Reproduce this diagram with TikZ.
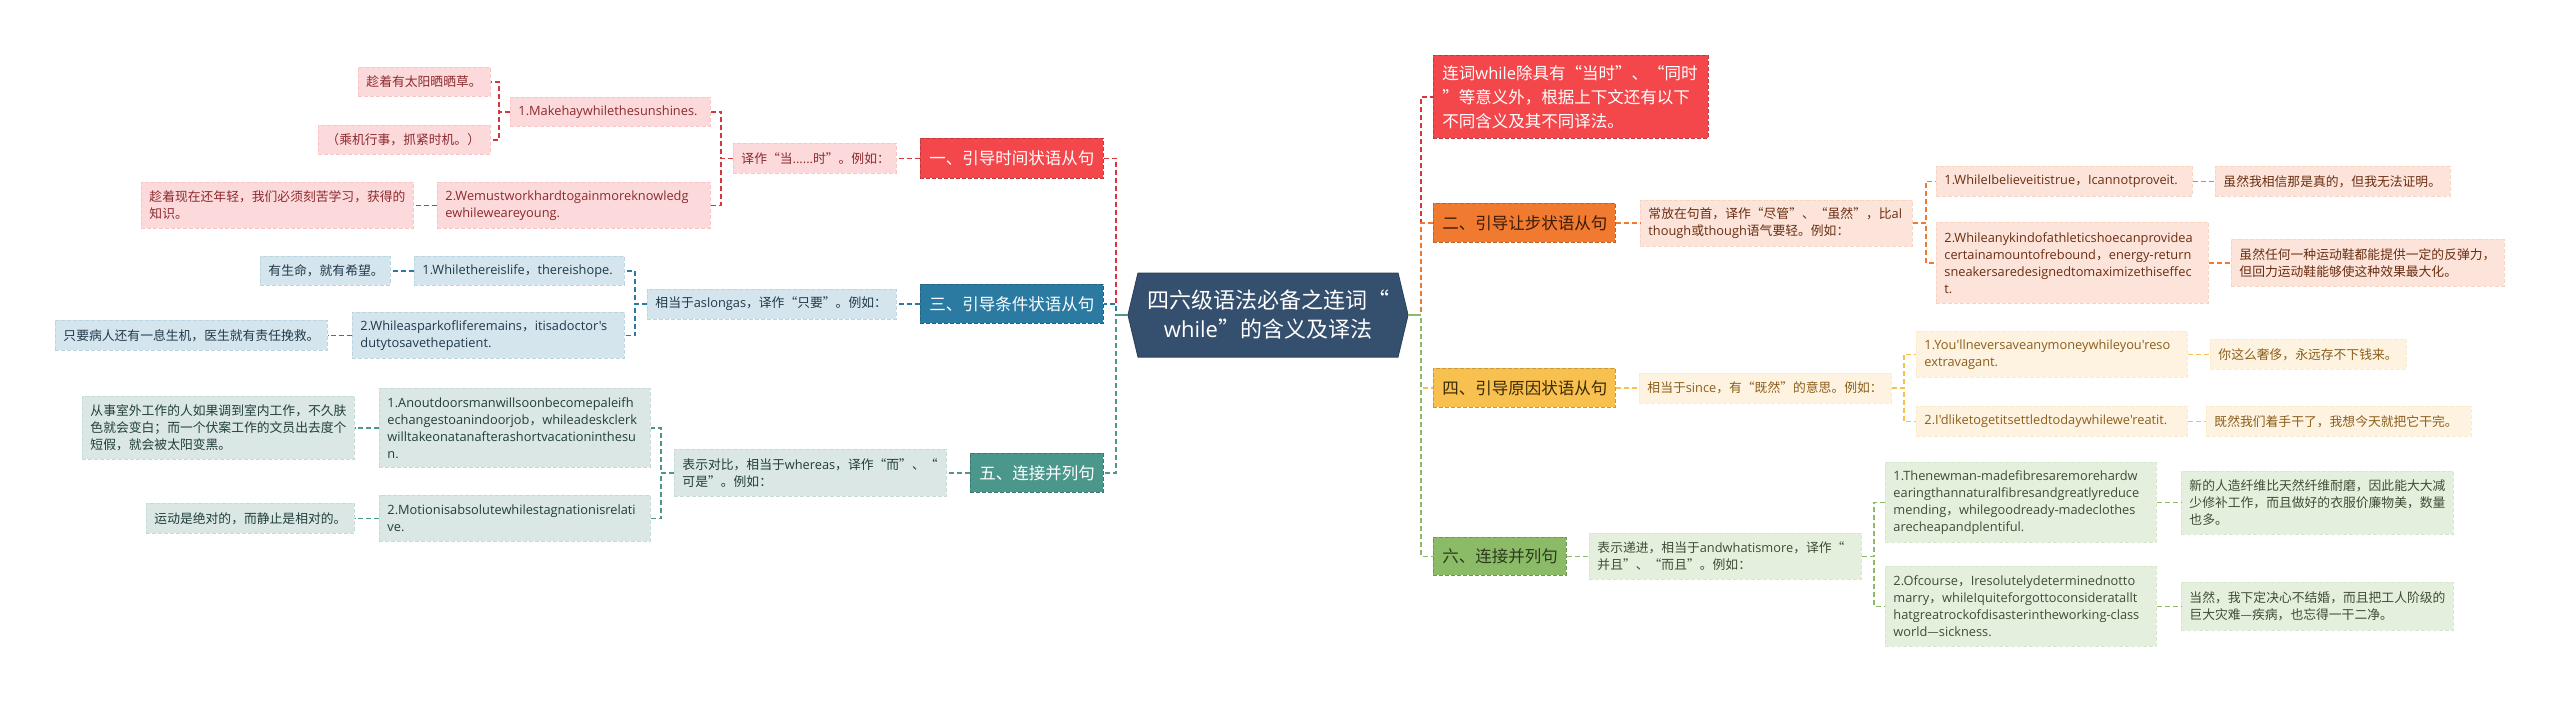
\documentclass[tikz,border=0pt]{standalone}
\usepackage{fontspec}
\setmainfont{Open Sans}
\newfontfamily\cjkfont{Noto Sans CJK SC}
\newfontfamily\latfont{Open Sans}
\XeTeXinterchartokenstate=1
\newXeTeXintercharclass\CJKcls
\newcount\ccnt
\ccnt="3000 \loop\XeTeXcharclass\ccnt=\CJKcls\advance\ccnt by 1\relax\ifnum\ccnt<"3040 \repeat
\ccnt="4E00 \loop\XeTeXcharclass\ccnt=\CJKcls\advance\ccnt by 1\relax\ifnum\ccnt<"A000 \repeat
\ccnt="FF00 \loop\XeTeXcharclass\ccnt=\CJKcls\advance\ccnt by 1\relax\ifnum\ccnt<"FFF0 \repeat
\XeTeXcharclass"201C=\CJKcls
\XeTeXcharclass"201D=\CJKcls
\XeTeXcharclass"2014=\CJKcls
\XeTeXinterchartoks 0 \CJKcls = {\cjkfont}
\XeTeXinterchartoks 4095 \CJKcls = {\cjkfont}
\XeTeXinterchartoks 255 \CJKcls = {\cjkfont}
\XeTeXinterchartoks \CJKcls 0 = {\latfont}
\XeTeXinterchartoks 4095 0 = {\latfont}
\newcommand\setfs[2]{\fontsize{#1}{#2}\selectfont\hyphenpenalty=10000 \exhyphenpenalty=10000 }

\definecolor{cRed}{HTML}{F4474C}
\definecolor{cRedL}{HTML}{FCDADC}
\definecolor{cRedT}{HTML}{8C2A2D}
\definecolor{cRedLine}{HTML}{D6363E}
\definecolor{cBlue}{HTML}{2A7AA2}
\definecolor{cBlueL}{HTML}{D5E5EE}
\definecolor{cBlueT}{HTML}{20394A}
\definecolor{cTeal}{HTML}{4B978C}
\definecolor{cTealL}{HTML}{DAE7E5}
\definecolor{cTealT}{HTML}{213F3B}
\definecolor{cOr}{HTML}{F07A2F}
\definecolor{cOrL}{HTML}{FCE4DA}
\definecolor{cOrT}{HTML}{6A2E12}
\definecolor{cOrH}{HTML}{3E1A08}
\definecolor{cYel}{HTML}{F8C04E}
\definecolor{cYelL}{HTML}{FDF3E0}
\definecolor{cYelT}{HTML}{8C5E1C}
\definecolor{cYelH}{HTML}{3A2A06}
\definecolor{cGr}{HTML}{8BBB66}
\definecolor{cGrL}{HTML}{E5EFDD}
\definecolor{cGrT}{HTML}{3E4D33}
\definecolor{cGrH}{HTML}{2C3A20}
\definecolor{cNavy}{HTML}{35506E}

\tikzset{
  bx/.style={draw, dash pattern=on 4pt off 2pt, line width=0.9pt, anchor=north west, align=left, inner xsep=8pt, inner ysep=0pt},
  sm/.style={bx, font=\setfs{12.8}{17}},
  hd/.style={bx, font=\setfs{16.5}{22}, inner xsep=9pt},
  tw/.style={text width=#1},
  mh/.style={minimum height=#1},
  redc/.style={sm, fill=cRedL, draw=cRedL!85!cRed, text=cRedT},
  bluec/.style={sm, fill=cBlueL, draw=cBlueL!85!cBlue, text=cBlueT},
  tealc/.style={sm, fill=cTealL, draw=cTealL!85!cTeal, text=cTealT},
  orc/.style={sm, fill=cOrL, draw=cOrL!85!cOr, text=cOrT},
  yelc/.style={sm, fill=cYelL, draw=cYelL!85!cYel, text=cYelT},
  grc/.style={sm, fill=cGrL, draw=cGrL!85!cGr, text=cGrT},
  ln/.style={draw=#1, dash pattern=on 5pt off 3pt, line width=1.4pt},
}

\begin{document}
\begin{tikzpicture}[x=1pt,y=-1pt]
\fill[white] (0,0) rectangle (2560,705);
\useasboundingbox (0,0) rectangle (2560,705);

% central node
\coordinate (cl) at (1128,315);
\coordinate (cr) at (1408,315);
\draw[fill=cNavy, draw=cNavy!85!black, line width=1pt] (cl) -- (1138,273) -- (1398,273) -- (cr) -- (1398,357) -- (1138,357) -- cycle;
\node[text=white, align=center, font=\setfs{22}{29}] (ctr) at (1268,315) {四六级语法必备之连词“\\while”的含义及译法};

% ---------- left: red branch
\node[hd, fill=cRed, draw=cRed!80!black, text=white, tw=165, mh=40] (B1) at (920,138) {一、引导时间状语从句};
\node[redc, tw=147, mh=30] (A6) at (733,143) {译作“当......时”。例如：};
\node[redc, tw=184, mh=29] (A3) at (510,97) {1.Makehaywhilethesunshines.};
\node[redc, tw=116, mh=29] (A1) at (358,67) {趁着有太阳晒晒草。};
\node[redc, tw=156, mh=29] (A2) at (318,125) {（乘机行事，抓紧时机。）};
\node[redc, tw=257, mh=46] (A5) at (437,182) {2.Wemustworkhardtogainmoreknowledg\\ewhileweareyoung.};
\node[redc, tw=256, mh=46] (A4) at (141,182) {趁着现在还年轻，我们必须刻苦学习，获得的\\知识。};

% ---------- left: blue branch
\node[hd, fill=cBlue, draw=cBlue!80!black, text=white, tw=165, mh=39] (B3) at (920,284) {三、引导条件状语从句};
\node[bluec, tw=233, mh=30] (C5) at (647,288.5) {相当于aslongas，译作“只要”。例如：};
\node[bluec, tw=194, mh=29] (C2) at (414,256) {1.Whilethereislife，thereishope.};
\node[bluec, tw=114, mh=29] (C1) at (260,256) {有生命，就有希望。};
\node[bluec, tw=256, mh=46] (C4) at (352,312) {2.Whileasparkofliferemains，itisadoctor's\\dutytosavethepatient.};
\node[bluec, tw=256, mh=30] (C3) at (55,320) {只要病人还有一息生机，医生就有责任挽救。};

% ---------- left: teal branch
\node[hd, fill=cTeal, draw=cTeal!80!black, text=white, tw=115, mh=39] (B5) at (970,453) {五、连接并列句};
\node[tealc, tw=256, mh=47] (D5) at (674,449) {表示对比，相当于whereas，译作“而”、“\\可是”。例如：};
\node[tealc, tw=255, mh=79] (D2) at (379,388) {1.Anoutdoorsmanwillsoonbecomepaleifh\\echangestoanindoorjob，whileadeskclerk\\willtakeonatanafterashortvacationinthesu\\n.};
\node[tealc, tw=256, mh=63] (D1) at (82,396) {从事室外工作的人如果调到室内工作，不久肤\\色就会变白；而一个伏案工作的文员出去度个\\短假，就会被太阳变黑。};
\node[tealc, tw=255, mh=46] (D4) at (379,495) {2.Motionisabsolutewhilestagnationisrelati\\ve.};
\node[tealc, tw=192, mh=30] (D3) at (146,503) {运动是绝对的，而静止是相对的。};

% ---------- right: red note
\node[bx, font=\setfs{16.5}{24}, inner xsep=9pt, fill=cRed, draw=cRed!80!black, text=white, tw=257, mh=83] (R0) at (1433,55) {连词while除具有“当时”、“同时\\”等意义外，根据上下文还有以下\\不同含义及其不同译法。};

% ---------- right: orange branch
\node[hd, fill=cOr, draw=cOr!80!black, text=cOrH, tw=164, mh=39] (R2) at (1433,203) {二、引导让步状语从句};
\node[orc, tw=256, mh=46] (R2a) at (1640,199.5) {常放在句首，译作“尽管”、“虽然”，比al\\though或though语气要轻。例如：};
\node[orc, tw=240, mh=30] (R2b) at (1936,166) {1.WhileIbelieveitistrue，Icannotproveit.};
\node[orc, tw=219, mh=30] (R2c) at (2215,166) {虽然我相信那是真的，但我无法证明。};
\node[orc, tw=256, mh=81] (R2d) at (1936,222) {2.Whileanykindofathleticshoecanprovidea\\certainamountofrebound，energy-return\\sneakersaredesignedtomaximizethiseffec\\t.};
\node[orc, tw=257, mh=47] (R2e) at (2231,239) {虽然任何一种运动鞋都能提供一定的反弹力，\\但回力运动鞋能够使这种效果最大化。};

% ---------- right: yellow branch
\node[hd, fill=cYel, draw=cYel!80!black, text=cYelH, tw=164, mh=39] (R4) at (1433,368) {四、引导原因状语从句};
\node[yelc, tw=236, mh=30] (R4a) at (1639,372.5) {相当于since，有“既然”的意思。例如：};
\node[yelc, tw=255, mh=46] (R4b) at (1916,331) {1.You'llneversaveanymoneywhileyou'reso\\extravagant.};
\node[yelc, tw=180, mh=30] (R4c) at (2210,339) {你这么奢侈，永远存不下钱来。};
\node[yelc, tw=255, mh=30] (R4d) at (1916,406) {2.I'dliketogetitsettledtodaywhilewe'reatit.};
\node[yelc, tw=249, mh=30] (R4e) at (2206,406) {既然我们着手干了，我想今天就把它干完。};

% ---------- right: green branch
\node[hd, fill=cGr, draw=cGr!80!black, text=cGrH, tw=115, mh=38] (R6) at (1433,537) {六、连接并列句};
\node[grc, tw=256, mh=46] (R6a) at (1589,533) {表示递进，相当于andwhatismore，译作“\\并且”、“而且”。例如：};
\node[grc, tw=255, mh=80] (R6b) at (1885,462) {1.Thenewman-madefibresaremorehardw\\earingthannaturalfibresandgreatlyreduce\\mending，whilegoodready-madeclothes\\arecheapandplentiful.};
\node[grc, tw=256, mh=63] (R6c) at (2181,470.5) {新的人造纤维比天然纤维耐磨，因此能大大减\\少修补工作，而且做好的衣服价廉物美，数量\\也多。};
\node[grc, tw=255, mh=80] (R6d) at (1885,566) {2.Ofcourse，Iresolutelydeterminednotto\\marry，whileIquiteforgottoconsideratallt\\hatgreatrockofdisasterintheworking-class\\world—sickness.};
\node[grc, tw=256, mh=48] (R6e) at (2181,582) {当然，我下定决心不结婚，而且把工人阶级的\\巨大灾难—疾病，也忘得一干二净。};

% ---------- connectors from the centre
\draw[ln=cRedLine] (cl) -- ++(-12,0) |- (B1.east);
\draw[ln=cTeal] (cl) -- ++(-12,0) |- (B5.east);
\draw[ln=cBlue] (cl) -- ++(-12,0) |- (B3.east);
\draw[cTeal, line width=1.5pt] (cl) -- ++(-12,0);

\draw[ln=cRedLine] (cr) -- ++(13,0) |- (R0.west);
\draw[ln=cOr] (cr) -- ++(13,0) |- (R2.west);
\draw[ln=cYel] (cr) -- ++(13,0) |- (R4.west);
\draw[ln=cGr] (cr) -- ++(13,0) |- (R6.west);
\draw[cGr, line width=1.5pt] (cr) -- ++(13,0);

% ---------- red branch connectors
\draw[ln=cRedLine] (B1.west) -- (B1.west -| A6.east);
\draw[ln=cRedLine] (A6.west) -- ++(-12,0) |- (A3.east);
\draw[ln=cRedLine] (A6.west) -- ++(-12,0) |- (A5.east);
\draw[ln=cRedLine] (A3.west) -- ++(-11,0) |- (A1.east);
\draw[ln=cRedLine] (A3.west) -- ++(-11,0) |- (A2.east);
\draw[ln=cRedLine] (A5.west) -- (A5.west -| A4.east);

% ---------- blue branch connectors
\draw[ln=cBlue] (B3.west) -- (B3.west -| C5.east);
\draw[ln=cBlue] (C5.west) -- ++(-12,0) |- (C2.east);
\draw[ln=cBlue] (C5.west) -- ++(-12,0) |- (C4.east);
\draw[ln=cBlue] (C2.west) -- (C2.west -| C1.east);
\draw[ln=cBlue] (C4.west) -- (C4.west -| C3.east);

% ---------- teal branch connectors
\draw[ln=cTeal] (B5.west) -- (B5.west -| D5.east);
\draw[ln=cTeal] (D5.west) -- ++(-13,0) |- (D2.east);
\draw[ln=cTeal] (D5.west) -- ++(-13,0) |- (D4.east);
\draw[ln=cTeal] (D2.west) -- (D2.west -| D1.east);
\draw[ln=cTeal] (D4.west) -- (D4.west -| D3.east);

% ---------- orange branch connectors
\draw[ln=cOr] (R2.east) -- (R2.east -| R2a.west);
\draw[ln=cOr] (R2a.east) -- ++(13,0) |- (R2b.west);
\draw[ln=cOr] (R2a.east) -- ++(13,0) |- (R2d.west);
\draw[ln=cOr] (R2b.east) -- (R2b.east -| R2c.west);
\draw[ln=cOr] (R2d.east) -- (R2d.east -| R2e.west);

% ---------- yellow branch connectors
\draw[ln=cYel] (R4.east) -- (R4.east -| R4a.west);
\draw[ln=cYel] (R4a.east) -- ++(12,0) |- (R4b.west);
\draw[ln=cYel] (R4a.east) -- ++(12,0) |- (R4d.west);
\draw[ln=cYel] (R4b.east) -- (R4b.east -| R4c.west);
\draw[ln=cYel] (R4d.east) -- (R4d.east -| R4e.west);

% ---------- green branch connectors
\draw[ln=cGr] (R6.east) -- (R6.east -| R6a.west);
\draw[ln=cGr] (R6a.east) -- ++(12,0) |- (R6b.west);
\draw[ln=cGr] (R6a.east) -- ++(12,0) |- (R6d.west);
\draw[ln=cGr] (R6b.east) -- (R6b.east -| R6c.west);
\draw[ln=cGr] (R6d.east) -- (R6d.east -| R6e.west);
\end{tikzpicture}
\end{document}
